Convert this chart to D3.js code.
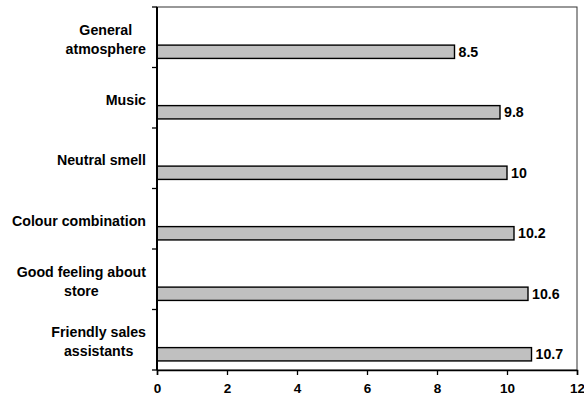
<!DOCTYPE html>
<html>
<head>
<meta charset="utf-8">
<script src="https://cdn.jsdelivr.net/npm/d3@7"></script>
<style>
  html, body { margin: 0; padding: 0; background: #fff; }
  svg { display: block; }
  text { font-family: "Liberation Sans", Arial, sans-serif; font-weight: bold; fill: #000; }
</style>
</head>
<body>
<svg id="chart" width="584" height="401"></svg>
<script>
// Store-environment factors and their scores
const categories = [
  ["General", "atmosphere"],
  ["Music"],
  ["Neutral smell"],
  ["Colour combination"],
  ["Good feeling about", "store"],
  ["Friendly sales", "assistants"]
];
const values = [8.5, 9.8, 10, 10.2, 10.6, 10.7];
const xTicks = [0, 2, 4, 6, 8, 10, 12];

const svg = d3.select("#chart");
const plotL = 157, plotR = 577, plotT = 7, plotB = 370;
const fs = 14.2;

const x = d3.scaleLinear().domain([0, 12]).range([plotL, plotR]);
const y = d3.scaleBand().domain(d3.range(categories.length)).range([plotT, plotB]);
const bw = y.bandwidth();

// plot frame
svg.append("rect")
  .attr("x", plotL).attr("y", plotT)
  .attr("width", plotR - plotL).attr("height", plotB - plotT)
  .attr("fill", "none").attr("stroke", "#333").attr("stroke-width", 1);

// bars
svg.append("g").selectAll("rect")
  .data(values)
  .join("rect")
  .attr("x", x(0))
  .attr("y", (d, i) => y(i) + bw * 0.63)
  .attr("width", d => x(d) - x(0))
  .attr("height", bw * 0.22)
  .attr("fill", "#c0c0c0")
  .attr("stroke", "#000")
  .attr("stroke-width", 1.4);

// value labels
svg.append("g").selectAll("text")
  .data(values)
  .join("text")
  .attr("x", d => x(d) + 4)
  .attr("y", (d, i) => y(i) + bw * 0.74)
  .attr("dy", "0.36em")
  .attr("font-size", fs)
  .text(d => d);

// x axis
const xAxis = svg.append("g")
  .attr("transform", `translate(0,${plotB})`)
  .call(d3.axisBottom(x).tickValues(xTicks).tickSize(5).tickPadding(8).tickFormat(d3.format("d")));
xAxis.select(".domain").attr("stroke", "#000").attr("stroke-width", 1.5);
xAxis.selectAll(".tick line").attr("stroke", "#000").attr("stroke-width", 1.3);
xAxis.selectAll(".tick text").attr("font-size", 13.5).attr("font-family", null).style("font-weight", "bold");

// y axis: ticks at band boundaries
const yAxisG = svg.append("g");
yAxisG.append("line")
  .attr("x1", plotL).attr("x2", plotL).attr("y1", plotT).attr("y2", plotB)
  .attr("stroke", "#000").attr("stroke-width", 2);
yAxisG.selectAll("line.tk")
  .data(d3.range(categories.length + 1))
  .join("line")
  .attr("class", "tk")
  .attr("x1", plotL - 5).attr("x2", plotL)
  .attr("y1", i => i < categories.length ? y(i) : plotB)
  .attr("y2", i => i < categories.length ? y(i) : plotB)
  .attr("stroke", "#000").attr("stroke-width", 1.3);

// category labels, lines centered within a right-aligned block
const labelRight = 146, lineH = 19;
categories.forEach((lines, i) => {
  const g = svg.append("g");
  const texts = g.selectAll("text")
    .data(lines)
    .join("text")
    .attr("font-size", fs)
    .attr("text-anchor", "middle")
    .text(d => d);
  let maxW = 0;
  texts.each(function() { maxW = Math.max(maxW, this.getComputedTextLength()); });
  const cy = y(i) + bw * 0.53;
  const y0 = cy - (lines.length - 1) * lineH / 2;
  texts.attr("x", labelRight - maxW / 2)
    .attr("y", (d, k) => y0 + k * lineH)
    .attr("dy", "0.36em");
});
</script>
</body>
</html>
